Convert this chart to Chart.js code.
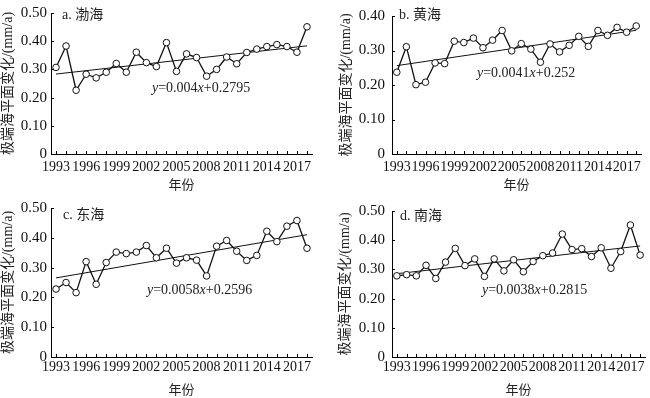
<!DOCTYPE html>
<html>
<head>
<meta charset="utf-8">
<script src="https://cdn.jsdelivr.net/npm/chart.js@4"></script>
<style>
  body { margin: 0; background: #fff; }
  .panel { position: absolute; }
</style>
</head>
<body>
<div class="panel" style="left:0;top:0"><canvas id="cA" width="325" height="195"></canvas></div>
<div class="panel" style="left:325px;top:0"><canvas id="cB" width="325" height="195"></canvas></div>
<div class="panel" style="left:0;top:195px"><canvas id="cC" width="325" height="203"></canvas></div>
<div class="panel" style="left:325px;top:195px"><canvas id="cD" width="325" height="203"></canvas></div>
<script>
const years = [1993, 1994, 1995, 1996, 1997, 1998, 1999, 2000, 2001, 2002, 2003, 2004, 2005,
               2006, 2007, 2008, 2009, 2010, 2011, 2012, 2013, 2014, 2015, 2016, 2017, 2018];

// extreme sea level change, mm/a
const bohai    = [0.307, 0.383, 0.226, 0.283, 0.270, 0.290, 0.321, 0.290, 0.361, 0.324, 0.310, 0.395, 0.293,
                  0.355, 0.342, 0.276, 0.300, 0.344, 0.320, 0.360, 0.372, 0.381, 0.388, 0.381, 0.361, 0.451];
const huanghai = [0.237, 0.311, 0.201, 0.208, 0.264, 0.262, 0.327, 0.323, 0.336, 0.308, 0.330, 0.358, 0.299,
                  0.320, 0.304, 0.266, 0.319, 0.296, 0.315, 0.341, 0.312, 0.358, 0.344, 0.367, 0.353, 0.371];
const donghai  = [0.228, 0.250, 0.216, 0.320, 0.244, 0.317, 0.352, 0.347, 0.352, 0.374, 0.333, 0.365, 0.315,
                  0.333, 0.325, 0.272, 0.372, 0.391, 0.355, 0.324, 0.341, 0.422, 0.387, 0.439, 0.458, 0.365];
const nanhai   = [0.278, 0.282, 0.278, 0.314, 0.269, 0.325, 0.372, 0.313, 0.336, 0.276, 0.336, 0.295, 0.333,
                  0.292, 0.327, 0.347, 0.356, 0.421, 0.368, 0.371, 0.344, 0.374, 0.304, 0.361, 0.452, 0.349];

// linear trend at first and last year
const trendA = [0.2835, 0.3835];
const trendB = [0.2561, 0.3586];
const trendC = [0.2654, 0.4104];
const trendD = [0.2853, 0.3803];

const eqA = ['0.004', '0.2795'];
const eqB = ['0.0041', '0.252'];
const eqC = ['0.0058', '0.2596'];
const eqD = ['0.0038', '0.2815'];

const yMaxes = [0.5, 0.4, 0.5, 0.5];
const panelNames = ['a. 渤海', 'b. 黄海', 'c. 东海', 'd. 南海'];

const SERIF = '"Liberation Serif", "Times New Roman", serif';
const CJK = '"Liberation Serif", "Noto Sans CJK SC", serif';

function trendSeries(ends) {
    const arr = years.map(() => null);
    arr[0] = ends[0];
    arr[arr.length - 1] = ends[1];
    return arr;
}

// small inward ticks + text labels
const decorPlugin = {
    id: 'decor',
    afterDraw(chart) {
        const ctx = chart.ctx;
        const area = chart.chartArea;
        const xs = chart.scales.x, ys = chart.scales.y;
        const o = chart.options.plugins.decor;
        ctx.save();
        ctx.strokeStyle = '#000';
        ctx.lineWidth = 1;
        ctx.beginPath();
        ys.ticks.forEach(t => {
            const py = Math.round(ys.getPixelForValue(t.value)) + 0.5;
            ctx.moveTo(area.left, py);
            ctx.lineTo(area.left + 3, py);
        });
        years.forEach((y, i) => {
            const px = Math.round(xs.getPixelForValue(i)) + 0.5;
            ctx.moveTo(px, area.bottom);
            ctx.lineTo(px, area.bottom - 3);
        });
        ctx.stroke();

        ctx.fillStyle = '#222';
        ctx.textBaseline = 'middle';
        ctx.font = '14px ' + CJK;
        ctx.fillText(o.name, o.nameX, o.nameY);

        let x = o.eqX;
        const parts = [['y', true], ['=' + o.eq[0], false], ['x', true], ['+' + o.eq[1], false]];
        parts.forEach(p => {
            ctx.font = (p[1] ? 'italic ' : '') + '14px ' + SERIF;
            ctx.fillText(p[0], x, o.eqY);
            x += ctx.measureText(p[0]).width;
        });
        ctx.restore();
    }
};

function makeChart(id, values, trend, eq, idx, lay) {
    new Chart(document.getElementById(id), {
        type: 'line',
        data: {
            labels: years,
            datasets: [{
                data: values,
                borderColor: '#111',
                borderWidth: 1.3,
                pointRadius: 3.3,
                pointBackgroundColor: '#fff',
                pointBorderColor: '#111',
                pointBorderWidth: 1,
                tension: 0,
                order: 0
            }, {
                data: trendSeries(trend),
                borderColor: '#111',
                borderWidth: 1,
                pointRadius: 0,
                spanGaps: true,
                order: 1
            }]
        },
        options: {
            responsive: false,
            animation: false,
            devicePixelRatio: 1,
            layout: { padding: { left: lay.padL, right: lay.padR, top: lay.padT, bottom: lay.padB } },
            plugins: {
                legend: { display: false },
                tooltip: { enabled: false },
                decor: { name: panelNames[idx], nameX: lay.nameX, nameY: lay.nameY, eq: eq, eqX: lay.eqX, eqY: lay.eqY }
            },
            scales: {
                x: {
                    offset: true,
                    grid: { display: true, drawOnChartArea: false, drawTicks: false, offset: true },
                    border: { color: '#000', width: 1 },
                    ticks: {
                        autoSkip: false,
                        maxRotation: 0,
                        padding: lay.xPad,
                        color: '#111',
                        font: { family: SERIF, size: 14 },
                        callback: (v, i) => (i % 3 === 0 ? years[i] : '')
                    },
                    title: { display: true, text: '年份', color: '#222', font: { family: CJK, size: 13 }, padding: 0 },
                    afterFit: s => { s.height = lay.xH; }
                },
                y: {
                    min: 0,
                    max: yMaxes[idx],
                    grid: { display: true, drawOnChartArea: false, drawTicks: false },
                    border: { color: '#000', width: 1 },
                    ticks: {
                        stepSize: 0.05,
                        padding: lay.yPad,
                        color: '#111',
                        font: { family: SERIF, size: 15 },
                        callback: v => (Math.abs(v) < 1e-9 ? '0' : v.toFixed(2))
                    },
                    title: { display: true, text: '极端海平面变化/(mm/a)', color: '#222', font: { family: CJK, size: 14 }, padding: 0 },
                    afterFit: s => { s.width = lay.yW; }
                }
            }
        },
        plugins: [decorPlugin]
    });
}

makeChart('cA', bohai, trendA, eqA, 0,
    { padL: 0, padR: 13, padT: 7, padB: 2, yW: 51, xH: 39, xPad: 5, yPad: 4, nameX: 62, nameY: 15, eqX: 152, eqY: 88 });
makeChart('cB', huanghai, trendB, eqB, 1,
    { padL: 13, padR: 9, padT: 7, padB: 2, yW: 54, xH: 39, xPad: 5, yPad: 7, nameX: 74, nameY: 15, eqX: 152, eqY: 73 });
makeChart('cC', donghai, trendC, eqC, 2,
    { padL: 0, padR: 13, padT: 11, padB: 0, yW: 51, xH: 41, xPad: 2, yPad: 4, nameX: 63, nameY: 20, eqX: 147, eqY: 95 });
makeChart('cD', nanhai, trendD, eqD, 3,
    { padL: 12, padR: 5, padT: 15, padB: 0, yW: 55, xH: 41, xPad: 2, yPad: 7, nameX: 75, nameY: 21, eqX: 157, eqY: 95 });
</script>
</body>
</html>
